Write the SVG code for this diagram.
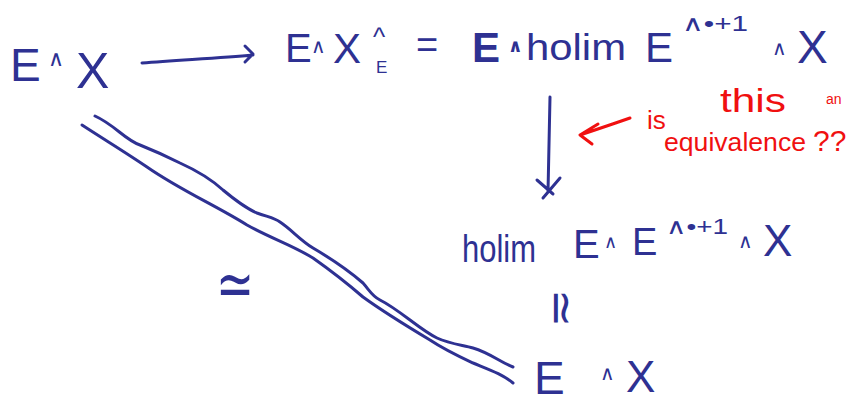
<svg xmlns="http://www.w3.org/2000/svg" width="854" height="404" viewBox="0 0 854 404">
<style>
.b{fill:#2e3192;font-family:"Liberation Sans","DejaVu Sans",sans-serif}
.r{fill:#f01010;font-family:"Liberation Sans","DejaVu Sans",sans-serif}
.lb{fill:none;stroke:#2e3192;stroke-width:3;stroke-linecap:round;stroke-linejoin:round}
.lr{fill:none;stroke:#f01010;stroke-width:3;stroke-linecap:round;stroke-linejoin:round}
</style>
<rect width="854" height="404" fill="#fff"/>
<g id="node-EX-top">
<text class="b" x="10" y="81" font-size="46">E</text>
<text class="b" x="48" y="66" font-size="22">∧</text>
<text class="b" x="76" y="88" font-size="50">X</text>
</g>
<g id="node-completion">
<text class="b" x="285" y="62" font-size="40">E</text>
<text class="b" x="311" y="53" font-size="20">∧</text>
<text class="b" x="333" y="63" font-size="42">X</text>
<text class="b" x="373" y="46" font-size="26">^</text>
<text class="b" x="376" y="73" font-size="17">E</text>
<text class="b" x="416" y="58" font-size="38">=</text>
<text class="b" x="472" y="62" font-size="42" font-weight="bold">E</text>
<text class="b" x="508" y="52" font-size="18" font-weight="bold">∧</text>
<text class="b" x="526" y="60" font-size="36" textLength="100" lengthAdjust="spacingAndGlyphs">holim</text>
<text class="b" x="645" y="62" font-size="42">E</text>
<text class="b" x="682" y="31" font-size="22" textLength="66" lengthAdjust="spacingAndGlyphs">∧•+1</text>
<text class="b" x="772" y="55" font-size="20">∧</text>
<text class="b" x="797" y="63" font-size="46">X</text>
</g>
<g id="node-holim">
<text class="b" x="462" y="262" font-size="38" textLength="74" lengthAdjust="spacingAndGlyphs">holim</text>
<text class="b" x="573" y="258" font-size="40">E</text>
<text class="b" x="604" y="248" font-size="18">∧</text>
<text class="b" x="632" y="255" font-size="38">E</text>
<text class="b" x="666" y="234" font-size="22" textLength="62" lengthAdjust="spacingAndGlyphs">∧•+1</text>
<text class="b" x="738" y="248" font-size="20">∧</text>
<text class="b" x="763" y="256" font-size="44">X</text>
</g>
<g id="node-EX-bottom">
<text class="b" x="534" y="394" font-size="46">E</text>
<text class="b" x="600" y="380" font-size="20">∧</text>
<text class="b" x="626" y="392" font-size="44">X</text>
</g>
<g id="annotation">
<text class="r" x="647" y="129" font-size="26">is</text>
<text class="r" x="720" y="112" font-size="34" textLength="66" lengthAdjust="spacingAndGlyphs">this</text>
<text class="r" x="826" y="104" font-size="14">an</text>
<text class="r" x="664" y="151" font-size="26" textLength="142" lengthAdjust="spacingAndGlyphs">equivalence</text>
<text class="r" x="813" y="151" font-size="30">??</text>
</g>
<g id="connectors">
<path class="lb" d="M142,63 C180,60 220,58 253,55 M245,46 L253,54 L245,62"/>
<path class="lb" d="M550,97 L548,192 M537,180 L553,194 M560,178 L543,198"/>
<path class="lb" d="M95,116 C115,125 125,140 140,145 C160,153 170,158 180,163 C200,172 212,180 223,190 C235,200 245,208 257,213 C268,217 275,218 280,222 C292,230 300,240 313,248 C330,258 348,270 363,283 C370,291 372,296 380,300 C400,310 420,330 437,338 C450,344 462,345 473,348 C490,353 500,362 513,367"/>
<path class="lb" d="M82,125 C105,140 125,152 147,167 C180,190 215,205 247,225 C270,238 292,245 313,258 C330,270 348,284 363,297 C385,313 410,328 430,340 C445,350 458,356 473,363 C490,370 502,374 513,383"/>
<text class="b" x="216" y="306" font-size="64" textLength="38" lengthAdjust="spacingAndGlyphs">≃</text>
<text class="b" x="0" y="0" font-size="46" transform="translate(560,308) rotate(90)" text-anchor="middle" dy="14">≃</text>
<path class="lr" d="M630,118 C610,125 595,130 580,135 M598,124 L580,135 L592,144"/>
</g>
</svg>
